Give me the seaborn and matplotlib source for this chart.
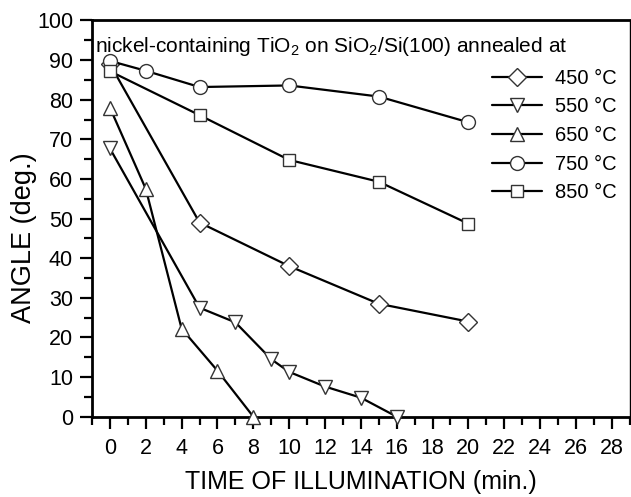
import matplotlib
matplotlib.use("Agg")
import matplotlib.pyplot as plt
import seaborn as sns
import pandas as pd
from matplotlib.ticker import MultipleLocator

sns.set_theme(style="ticks")
plt.rcParams['font.family'] = ['Liberation Sans', 'DejaVu Sans']
plt.rcParams['mathtext.fontset'] = 'custom'
plt.rcParams['mathtext.rm'] = 'Liberation Sans'
plt.rcParams['text.color'] = 'black'
plt.rcParams['axes.labelcolor'] = 'black'
plt.rcParams['xtick.color'] = 'black'
plt.rcParams['ytick.color'] = 'black'

labels = ["450 °C", "550 °C", "650 °C", "750 °C", "850 °C"]
markers = ["D", "v", "^", "o", "s"]

t450 = [0, 5, 10, 15, 20]
a450 = [89, 49, 38, 28.5, 24]
t550 = [0, 5, 7, 9, 10, 12, 14, 16]
a550 = [67.7, 27.5, 23.8, 14.5, 11.3, 7.6, 4.8, 0]
t650 = [0, 2, 4, 6, 8]
a650 = [78, 57.5, 22.2, 11.6, 0]
t750 = [0, 2, 5, 10, 15, 20]
a750 = [89.8, 87.3, 83.2, 83.6, 80.8, 74.3]
t850 = [0, 5, 10, 15, 20]
a850 = [87.2, 76.1, 64.8, 59.3, 48.7]

times = [t450, t550, t650, t750, t850]
angles = [a450, a550, a650, a750, a850]

rows = []
for lab, ts, ans in zip(labels, times, angles):
    for t, a in zip(ts, ans):
        rows.append({"time": t, "angle": a, "temp": lab})
df = pd.DataFrame(rows)

fig = plt.figure(figsize=(6.31, 4.97), dpi=100)
ax = fig.add_axes([0.1458, 0.1616, 0.8522, 0.7972])

msizes = {"D": 9, "v": 10, "^": 10, "o": 10, "s": 8.5}
for lab, m in zip(labels, markers):
    sub = df[df.temp == lab]
    sns.lineplot(data=sub, x="time", y="angle", ax=ax, color="black", lw=1.6,
                 marker=m, markersize=msizes[m], markerfacecolor="white",
                 markeredgecolor="#333333", markeredgewidth=1.0, label=lab,
                 zorder=3, clip_on=False)

ax.set_xlim(-1, 29)
ax.set_ylim(0, 100)
ax.set_xticks(range(0, 29, 2))
ax.xaxis.set_minor_locator(MultipleLocator(1))
ax.yaxis.set_major_locator(MultipleLocator(10))
ax.yaxis.set_minor_locator(MultipleLocator(5))
ax.tick_params(axis='both', which='major', direction='out', length=8.6, width=1.6,
               labelsize=15.5, colors='black')
ax.tick_params(axis='both', which='minor', direction='out', length=5.5, width=1.6,
               colors='black')
ax.tick_params(axis='x', which='major', pad=7)
ax.tick_params(axis='y', which='major', pad=5)
for s in ["left", "bottom", "top"]:
    ax.spines[s].set_linewidth(2)
    ax.spines[s].set_color("black")
ax.spines["right"].set_linewidth(1)
ax.spines["right"].set_color("black")

ax.set_xlabel("TIME OF ILLUMINATION (min.)", fontsize=18, labelpad=8, color="black")
ax.set_ylabel("ANGLE (deg.)", fontsize=19.5, color="black")
ax.yaxis.set_label_coords(-0.103, 0.451)

ax.text(0.006, 0.921, "nickel-containing TiO$_2$ on SiO$_2$/Si(100) annealed at",
        transform=ax.transAxes, fontsize=15, va="baseline", ha="left", color="black")

leg = ax.legend(loc="upper left", bbox_to_anchor=(0.7435, 0.878), frameon=False,
                fontsize=14.5, handlelength=2.5, handletextpad=0.65,
                labelspacing=0.48, borderaxespad=0, borderpad=0)
for t in leg.get_texts():
    t.set_color("black")

fig.savefig("out.png", dpi=100)
